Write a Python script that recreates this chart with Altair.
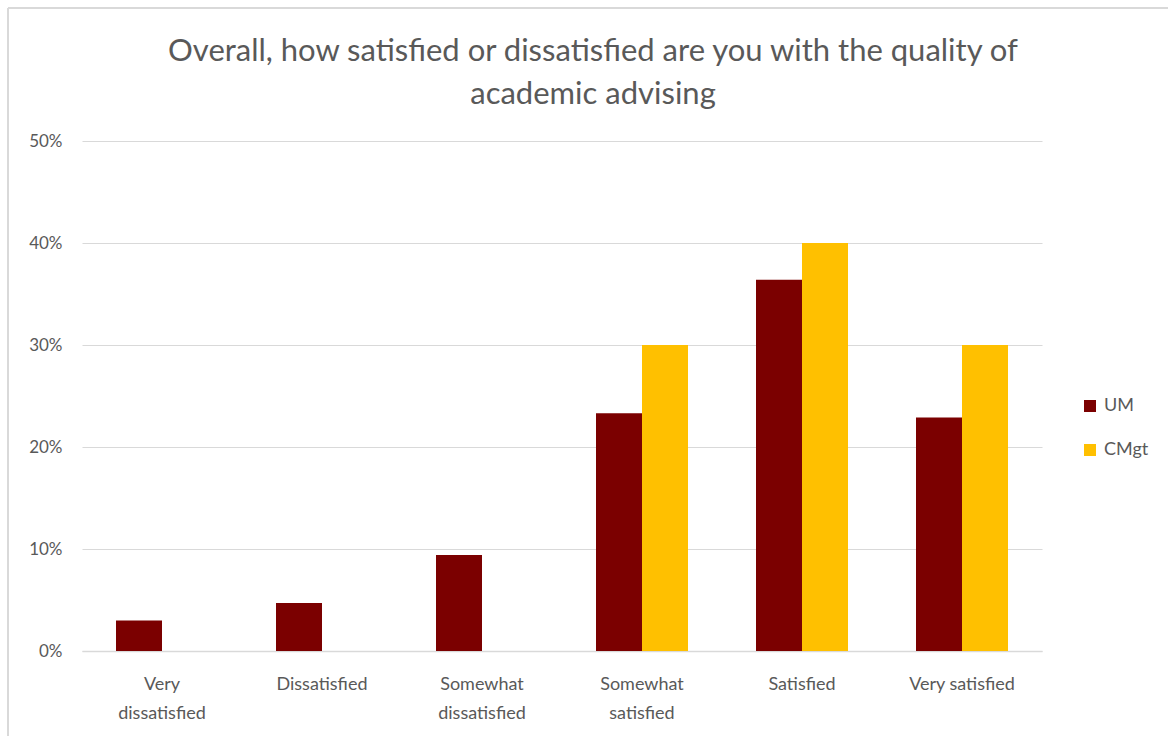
import altair as alt
import pandas as pd

categories = ["Very dissatisfied", "Dissatisfied", "Somewhat dissatisfied",
              "Somewhat satisfied", "Satisfied", "Very satisfied"]
label_lines = [["Very", "dissatisfied"], ["Dissatisfied"], ["Somewhat", "dissatisfied"],
               ["Somewhat", "satisfied"], ["Satisfied"], ["Very satisfied"]]
series = ["UM", "CMgt"]
um_values = [0.030, 0.047, 0.094, 0.233, 0.364, 0.229]
cmgt_values = [0.0, 0.0, 0.0, 0.30, 0.40, 0.30]
y_ticks = [0, 0.1, 0.2, 0.3, 0.4, 0.5]
colors = ["#7B0000", "#FFC000"]

rows = []
for c, u, g in zip(categories, um_values, cmgt_values):
    rows.append({"category": c, "series": "UM", "value": u})
    rows.append({"category": c, "series": "CMgt", "value": g})
df = pd.DataFrame(rows)

expr_parts = []
for c, lines in zip(categories, label_lines):
    arr = "[" + ",".join("'" + l + "'" for l in lines) + "]"
    expr_parts.append(f"datum.value == '{c}' ? {arr} : ")
label_expr = "".join(expr_parts) + "datum.label"

FONT = "Lato"
GRAY = "#595959"

bars = alt.Chart(df).mark_bar().encode(
    x=alt.X("category:N", sort=categories,
            scale=alt.Scale(paddingInner=0.425, paddingOuter=0.2125),
            axis=alt.Axis(title=None, labelAngle=0, labelExpr=label_expr,
                          labelFontSize=18, labelColor=GRAY, labelFont=FONT,
                          labelPadding=24, labelLineHeight=29,
                          ticks=False, domainColor="#D9D9D9", domainWidth=1.5)),
    xOffset=alt.XOffset("series:N", sort=series,
                        scale=alt.Scale(paddingInner=0, paddingOuter=0)),
    y=alt.Y("value:Q", scale=alt.Scale(domain=[0, 0.5], nice=False),
            axis=alt.Axis(title=None, format=".0%", values=y_ticks,
                          labelFontSize=17, labelColor=GRAY, labelFont=FONT,
                          labelPadding=20, ticks=False, domain=False,
                          labelOverlap=False,
                          gridColor="#D9D9D9", gridWidth=1.2)),
    color=alt.Color("series:N", sort=series,
                    scale=alt.Scale(domain=series, range=colors),
                    legend=alt.Legend(title=None, orient="none", legendX=999, legendY=256,
                                      symbolType="square", symbolSize=144,
                                      symbolStrokeWidth=0,
                                      labelFontSize=18, labelColor=GRAY, labelFont=FONT,
                                      rowPadding=26, labelOffset=5)),
)

frame_left = alt.Chart(df).mark_rule(color="#D9D9D9", strokeWidth=1.5).encode(
    x=alt.value(-74), y=alt.value(-133), y2=alt.value(600))
frame_top = alt.Chart(df).mark_rule(color="#D9D9D9", strokeWidth=1.5).encode(
    x=alt.value(-74), x2=alt.value(1090), y=alt.value(-133))

chart = alt.layer(frame_left, frame_top, bars).properties(
    width=960, height=510,
    background="white",
    autosize=alt.AutoSizeParams(type="none"),
    padding={"left": 82, "top": 141, "right": 126, "bottom": 85},
    title=alt.Title(["Overall, how satisfied or dissatisfied are you with the quality of",
                     "academic advising"],
                    fontSize=31, font=FONT, fontWeight="normal", color=GRAY,
                    anchor="middle", dx=31, offset=-104, lineHeight=43),
).configure_view(strokeWidth=0, stroke="transparent")

chart.save("out.html", embed_options={"renderer": "svg", "actions": False})
